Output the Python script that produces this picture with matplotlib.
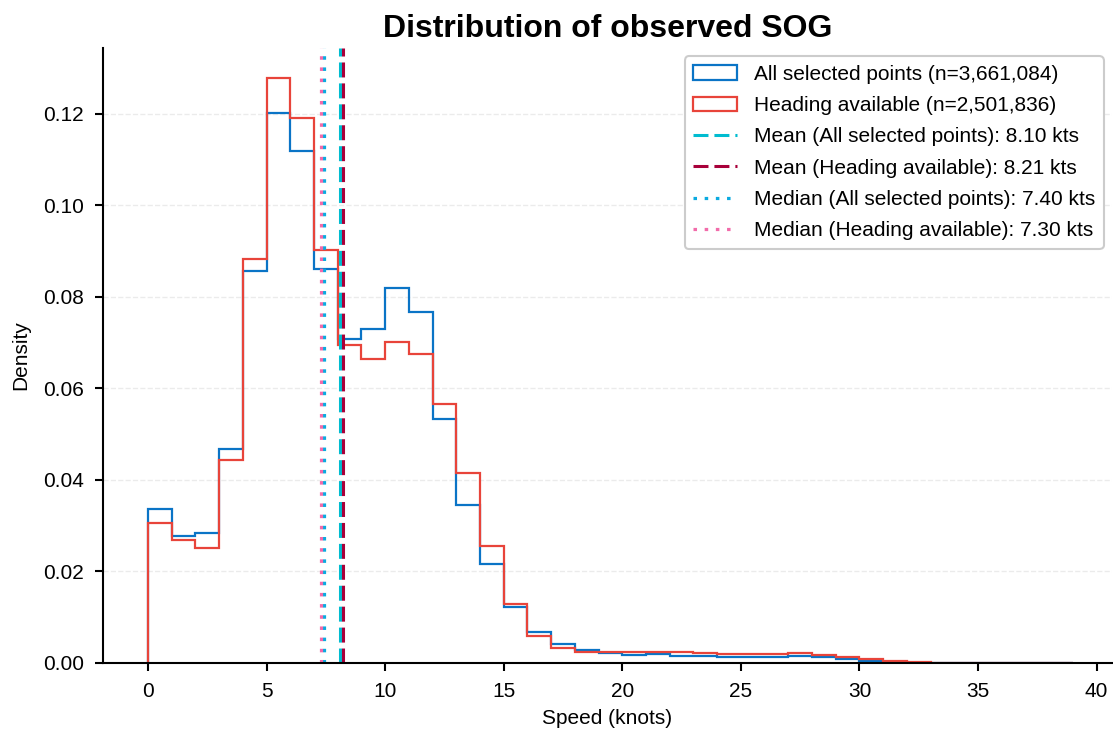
import numpy as np
import matplotlib
matplotlib.use("Agg")
import matplotlib.pyplot as plt
from matplotlib.patches import Patch
from matplotlib.lines import Line2D

plt.rcParams['font.family'] = ['Liberation Sans', 'DejaVu Sans']

bin_edges = list(range(0, 40))
density_all = [0.0336, 0.0278, 0.0285, 0.0468, 0.0857, 0.1202, 0.1120, 0.0861, 0.0707, 0.0731,
               0.0820, 0.0766, 0.0533, 0.0346, 0.0217, 0.0123, 0.0068, 0.0042, 0.0028, 0.0022,
               0.0018, 0.0019, 0.0016, 0.0015, 0.0014, 0.0014, 0.0014, 0.0015, 0.0013, 0.0009,
               0.0005, 0.0002, 0.0001, 0.0001, 0.00005, 0.00005, 0.00004, 0.00003, 0.00002]
density_heading = [0.0305, 0.0269, 0.0251, 0.0443, 0.0882, 0.1278, 0.1191, 0.0902, 0.0696, 0.0665,
                   0.0702, 0.0675, 0.0565, 0.0415, 0.0256, 0.0129, 0.0058, 0.0032, 0.0025, 0.0024,
                   0.0023, 0.0025, 0.0024, 0.0022, 0.0020, 0.0020, 0.0020, 0.0021, 0.0018, 0.0014,
                   0.0009, 0.0004, 0.0002, 0.0001, 0.00008, 0.00006, 0.00004, 0.00003, 0.00002]
series_labels = ["All selected points (n=3,661,084)", "Heading available (n=2,501,836)"]
mean_values = [8.10, 8.21]
median_values = [7.40, 7.30]
group_names = ["All selected points", "Heading available"]

hist_colors = ["#0A74C6", "#E8443A"]
mean_colors = ["#00BCD0", "#A8003A"]
median_colors = ["#0AAAE0", "#F26BAA"]

fig = plt.figure(figsize=(11.13, 7.36), dpi=100)
ax = fig.add_axes([103/1113, 1 - 663/736, (1112 - 103)/1113, (663 - 48)/736])

handles = []
for vals, c, lab in zip([density_all, density_heading], hist_colors, series_labels):
    ax.stairs(vals, bin_edges, color=c, linewidth=1.6)
    handles.append(Patch(facecolor='none', edgecolor=c, linewidth=1.6, label=lab))

mean_style = (0, (4.9, 1.95))
median_style = (0, (1.1, 2.4))
for m, c, g in zip(mean_values, mean_colors, group_names):
    ax.axvline(m, color=c, linestyle=mean_style, linewidth=2.2)
    handles.append(Line2D([], [], color=c, linestyle=mean_style, linewidth=2.2,
                          label=f"Mean ({g}): {m:.2f} kts"))
for m, c, g in zip(median_values, median_colors, group_names):
    ax.axvline(m, color=c, linestyle=median_style, linewidth=2.3)
    handles.append(Line2D([], [], color=c, linestyle=median_style, linewidth=2.3,
                          label=f"Median ({g}): {m:.2f} kts"))

ax.set_xlim(-1.9, 40.65)
ax.set_ylim(0, 0.1344)
ax.set_xticks(range(0, 41, 5))
ax.set_yticks(np.arange(0, 0.121, 0.02))
ax.yaxis.set_major_formatter(matplotlib.ticker.FormatStrFormatter('%.2f'))
ax.grid(axis='y', linestyle='--', color='#e6e6e6', linewidth=1.0, alpha=0.8)
ax.set_axisbelow(True)
for s in ['top', 'right']:
    ax.spines[s].set_visible(False)
for s in ['left', 'bottom']:
    ax.spines[s].set_linewidth(1.5)
ax.tick_params(axis='both', direction='out', length=6, width=1.5, labelsize=15, pad=7.5)

ax.set_xlabel("Speed (knots)", fontsize=15, labelpad=6)
ax.set_ylabel("Density", fontsize=15, labelpad=9)
ax.set_title("Distribution of observed SOG", fontsize=23, fontweight='bold', pad=8)

leg = ax.legend(handles=handles, loc='upper right', fontsize=15, frameon=True, fancybox=True,
                edgecolor='#cccccc', framealpha=1, borderpad=0.41, handlelength=2.1,
                labelspacing=0.59, borderaxespad=0.4, handletextpad=0.8)
leg.get_frame().set_linewidth(1.5)

fig.savefig("out.png", dpi=100)
